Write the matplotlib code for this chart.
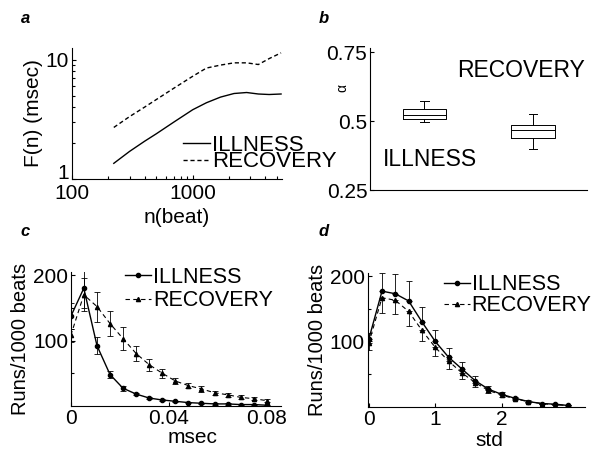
import matplotlib
matplotlib.use("Agg")
import matplotlib.pyplot as plt
from matplotlib.ticker import LogLocator, NullFormatter, FixedLocator

plt.rcParams['font.family'] = ['Liberation Sans', 'DejaVu Sans']
plt.rcParams['font.size'] = 15

# panel a: fluctuation function F(n)
n_beat = [222, 300, 400, 500, 700, 1000, 1300, 1700, 2200, 2800, 3500, 4300, 5400]
f_illness = [1.35, 1.70, 2.07, 2.39, 3.0, 3.8, 4.35, 4.85, 5.2, 5.3, 5.15, 5.1, 5.15]
f_recovery = [2.7, 3.33, 4.0, 4.63, 5.77, 7.25, 8.5, 9.0, 9.4, 9.4, 9.1, 10.2, 11.4]

# panel b: alpha boxplots (whislo, q1, med, q3, whishi)
alpha_illness = [0.496, 0.507, 0.522, 0.545, 0.575]
alpha_recovery = [0.40, 0.441, 0.469, 0.486, 0.526]

# panel c: runs per 1000 beats vs msec
x_msec = [0.0, 0.0053, 0.0107, 0.016, 0.0213, 0.0267, 0.032, 0.0373,
          0.0427, 0.048, 0.0533, 0.0587, 0.064, 0.0693, 0.0747, 0.08]
c_illness = [137, 180, 92, 48, 27, 18, 12, 9, 7, 5, 4, 3, 3, 2, 2, 1]
c_illness_err = [20, 30, 13, 6, 4, 2, 2, 1, 1, 1, 1, 1, 1, 1, 1, 1]
c_recovery = [108, 170, 152, 126, 103, 80, 63, 50, 38, 31, 26, 20, 17, 13, 11, 8]
c_recovery_err = [10, 25, 23, 19, 17, 12, 9, 7, 5, 4, 4, 3, 3, 3, 2, 2]

# panel d: runs per 1000 beats vs std
x_std = [0.0, 0.2, 0.4, 0.6, 0.8, 1.0, 1.2, 1.4, 1.6, 1.8, 2.0, 2.2, 2.4, 2.6, 2.8, 3.0]
d_illness = [103, 177, 173, 162, 130, 100, 76, 58, 40, 27, 19, 13, 8, 5, 4, 2]
d_illness_err = [10, 28, 30, 30, 22, 18, 14, 10, 7, 5, 3, 2, 2, 1, 1, 1]
d_recovery = [97, 167, 163, 146, 117, 91, 70, 52, 37, 25, 18, 12, 8, 5, 3, 2]
d_recovery_err = [10, 23, 21, 22, 17, 14, 12, 9, 6, 4, 3, 2, 2, 1, 1, 1]

DASH = (0, (4, 3))


def clean(ax):
    ax.spines['top'].set_visible(False)
    ax.spines['right'].set_visible(False)
    ax.tick_params(which='both', direction='in', length=3, width=0.8, pad=2)
    ax.tick_params(which='minor', length=2)


def legend(ax, anchor, spacing, size):
    ax.legend(loc='upper left', bbox_to_anchor=anchor, frameon=False,
              handlelength=1.2, handletextpad=0.1, labelspacing=spacing,
              borderpad=0, borderaxespad=0, fontsize=size)


fig = plt.figure(figsize=(5.95, 4.54), dpi=100)

# ---- a ----
ax = fig.add_axes([0.121, 0.606, 0.353, 0.289])
ax.plot(n_beat, f_illness, color='black', lw=1.0, label='ILLNESS')
ax.plot(n_beat, f_recovery, color='black', lw=1.0, ls=(0, (3, 2)), label='RECOVERY')
ax.set_xscale('log')
ax.set_yscale('log')
ax.set_xlim(100, 5500)
ax.set_ylim(1, 12.6)
ax.xaxis.set_major_locator(FixedLocator([100, 1000]))
ax.set_xticklabels(['100', '1000'])
ax.yaxis.set_major_locator(FixedLocator([1, 10]))
ax.set_yticklabels(['1', '10'])
ax.xaxis.set_minor_locator(LogLocator(base=10, subs=range(2, 10)))
ax.yaxis.set_minor_locator(LogLocator(base=10, subs=range(2, 10)))
ax.xaxis.set_minor_formatter(NullFormatter())
ax.yaxis.set_minor_formatter(NullFormatter())
clean(ax)
ax.tick_params(axis='x', pad=4)
ax.get_yticklabels()[0].set_va('baseline')
ax.set_xlabel('n(beat)', labelpad=3)
ax.set_ylabel('F(n) (msec)', labelpad=2)
legend(ax, (0.53, 0.335), -0.2, 16)
fig.text(0.035, 0.96, 'a', fontsize=12, fontweight='bold', fontstyle='italic', va='center')

# ---- b ----
ax = fig.add_axes([0.622, 0.581, 0.365, 0.313])
stats = []
for vals, lab in [(alpha_illness, 'ILLNESS'), (alpha_recovery, 'RECOVERY')]:
    stats.append(dict(whislo=vals[0], q1=vals[1], med=vals[2], q3=vals[3],
                      whishi=vals[4], label=lab, fliers=[]))
lp = dict(color='black', lw=0.7)
ax.bxp(stats, positions=[0.25, 0.75], widths=0.2, showfliers=False,
       boxprops=lp, medianprops=lp, whiskerprops=lp, capprops=lp, capwidths=0.04)
ax.set_xlim(0, 1)
ax.set_ylim(0.25, 0.765)
ax.set_xticks([])
ax.set_yticks([0.25, 0.5, 0.75])
ax.set_yticklabels(['0.25', '0.5', '0.75'])
clean(ax)
ax.set_ylabel('α', fontsize=10)
ax.yaxis.set_label_coords(-0.095, 0.72)
ax.text(0.40, 0.683, 'RECOVERY', fontsize=16.5, va='center', ha='left')
ax.text(0.06, 0.361, 'ILLNESS', fontsize=16.5, va='center', ha='left')
fig.text(0.535, 0.96, 'b', fontsize=12, fontweight='bold', fontstyle='italic', va='center')

# ---- c ----
ax = fig.add_axes([0.119, 0.106, 0.353, 0.295])
ax.errorbar(x_msec, c_illness, yerr=c_illness_err, fmt='none', ecolor='black',
            capsize=2, elinewidth=0.6, capthick=0.6)
ax.errorbar(x_msec, c_recovery, yerr=c_recovery_err, fmt='none', ecolor='black',
            capsize=2, elinewidth=0.6, capthick=0.6)
ax.plot(x_msec, c_illness, color='black', lw=1.0, marker='o', ms=3, label='ILLNESS')
ax.plot(x_msec, c_recovery, color='black', lw=0.8, ls=DASH, marker='^', ms=3,
        label='RECOVERY')
ax.set_xlim(0, 0.0857)
ax.set_ylim(0, 205)
ax.set_xticks([0, 0.04, 0.08])
ax.set_xticklabels(['0', '0.04', '0.08'])
ax.set_yticks([100, 200])
ax.set_yticks([50, 150], minor=True)
clean(ax)
ax.set_xlabel('msec')
ax.xaxis.set_label_coords(0.58, -0.165)
ax.set_ylabel('Runs/1000 beats', fontsize=14.5, labelpad=2)
legend(ax, (0.26, 1.04), 0.12, 15.5)
fig.text(0.035, 0.49, 'c', fontsize=12, fontweight='bold', fontstyle='italic', va='center')

# ---- d ----
ax = fig.add_axes([0.618, 0.104, 0.365, 0.295])
ax.errorbar(x_std, d_illness, yerr=[[0] * len(d_illness_err), d_illness_err],
            fmt='none', ecolor='black', capsize=2, elinewidth=0.6, capthick=0.6)
ax.errorbar(x_std, d_recovery, yerr=[d_recovery_err, [0] * len(d_recovery_err)],
            fmt='none', ecolor='black', capsize=2, elinewidth=0.6, capthick=0.6)
ax.plot(x_std, d_illness, color='black', lw=1.0, marker='o', ms=3, label='ILLNESS')
ax.plot(x_std, d_recovery, color='black', lw=0.8, ls=DASH, marker='^', ms=3,
        label='RECOVERY')
ax.set_xlim(-0.015, 3.25)
ax.set_ylim(0, 205)
ax.set_xticks([0, 1, 2])
ax.set_yticks([100, 200])
ax.set_yticks([50, 150], minor=True)
clean(ax)
ax.set_xlabel('std')
ax.xaxis.set_label_coords(0.56, -0.18)
ax.set_ylabel('Runs/1000 beats', fontsize=14.5, labelpad=2)
legend(ax, (0.35, 0.99), 0.0, 15.5)
fig.text(0.535, 0.49, 'd', fontsize=12, fontweight='bold', fontstyle='italic', va='center')

fig.savefig('out.png', dpi=100)
